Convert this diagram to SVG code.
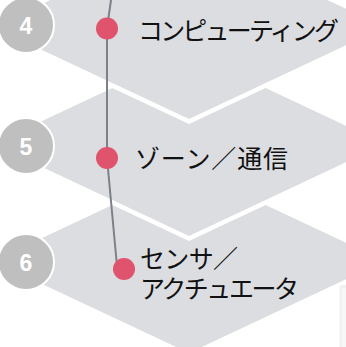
<svg xmlns="http://www.w3.org/2000/svg" width="346" height="347" viewBox="0 0 346 347">
<style>
.layer{fill:#dcdde1;stroke:#ffffff;stroke-width:9;paint-order:stroke;stroke-linejoin:miter}
.badge{fill:#bfbfbf;stroke:#ffffff;stroke-width:2}
.num{font-family:"Liberation Sans",Arial,sans-serif;font-weight:bold;font-size:23px;fill:#ffffff;text-anchor:middle}
.dot{fill:#df536c}
.lbl{font-family:"Noto Sans CJK JP","Noto Sans",sans-serif;font-size:25px;fill:#111111}
</style>
<rect width="346" height="347" fill="#ffffff"/>
<g id="layer6"><polygon class="layer" points="189,169 385,261 189,353 -7,261"/></g>
<g id="layer5"><polygon class="layer" points="189,52 385,144 189,236 -7,144"/></g>
<g id="layer4"><polygon class="layer" points="189,-65 385,27 189,119 -7,27"/></g>
<rect x="339.5" y="285" width="12" height="70" rx="3" fill="#f1f1f1"/>
<rect x="342" y="288" width="8" height="70" fill="#f7f7f7"/>
<g id="connectors"><polyline points="111,0 107,28 107,158 117,266" fill="none" stroke="#7b8089" stroke-width="2"/></g>
<g id="node4">
<circle class="badge" cx="26" cy="25" r="28"/>
<text class="num" x="26" y="33.5">4</text>
<circle class="dot" cx="107" cy="28.5" r="11"/>
<text class="lbl" x="138" y="40" textLength="201" lengthAdjust="spacing">コンピューティング</text>
</g>
<g id="node5">
<circle class="badge" cx="26" cy="146" r="28"/>
<text class="num" x="26" y="154.5">5</text>
<circle class="dot" cx="107" cy="158" r="11"/>
<text class="lbl" x="135" y="167.5" textLength="153" lengthAdjust="spacing">ゾーン／通信</text>
</g>
<g id="node6">
<circle class="badge" cx="26" cy="262" r="28"/>
<text class="num" x="26" y="270.5">6</text>
<circle class="dot" cx="124" cy="269" r="11"/>
<text class="lbl"><tspan x="140" y="268" textLength="98" lengthAdjust="spacing">センサ／</tspan><tspan x="140" y="297.5" textLength="159" lengthAdjust="spacing">アクチュエータ</tspan></text>
</g>
</svg>
